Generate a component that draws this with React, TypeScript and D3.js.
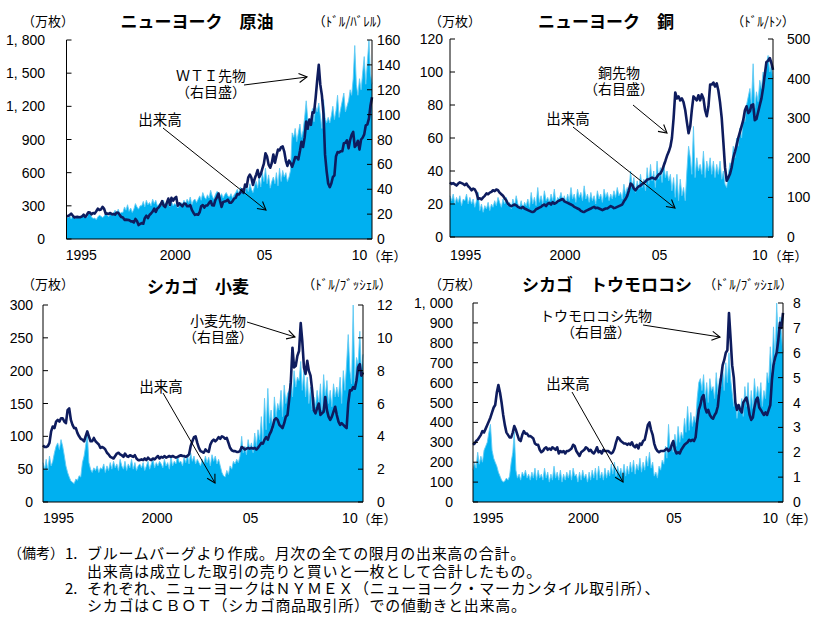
import React from "react";
import * as d3 from "d3";

// ---------- data (monthly, Jan 1995 – Apr 2011) ----------
const months: Date[] = d3.range(196).map((i) => new Date(1995, i, 1));

const xTickLabels = ["1995", "2000", "05", "10"];
const xTickDates = [new Date(1995, 9, 15), new Date(2000, 9, 15), new Date(2005, 6, 15), new Date(2010, 7, 1)];

// NY crude oil (WTI): volume 万枚, price $/bbl
const wtiVolume = [
  200,190,215,180,210,195,185,205,190,200,215,205,
  210,195,230,240,200,185,190,175,200,215,205,195,
  205,230,215,200,240,210,230,260,225,270,230,240,
  240,290,260,310,250,280,240,270,320,290,270,300,
  300,340,290,350,310,330,300,360,320,350,300,310,
  330,300,350,290,330,310,290,340,300,320,310,280,
  300,330,310,350,320,360,330,380,310,350,360,330,
  360,390,350,420,380,360,400,370,440,390,360,400,
  430,420,380,410,370,400,420,390,380,410,370,400,
  420,450,410,470,430,460,420,480,430,500,450,420,
  480,520,460,560,470,600,520,640,500,580,460,520,
  560,500,600,480,640,520,620,560,600,520,560,620,
  960,920,1000,880,960,1040,920,980,1100,1250,1080,1000,
  1100,1180,1060,1200,1150,1230,1120,1000,1260,1100,1050,1100,
  1050,1120,1200,1080,1160,1300,1100,1180,1250,1320,1150,1200,
  1250,1350,1300,1450,1750,1400,1300,1450,1350,1500,1650,1400,
  1600,1800,1500,1400,
];
const wtiPrice = [
  18.4,18.5,19.2,20.4,18.9,17.4,17.6,17.8,17.5,17.6,18.2,19.6,
  17.7,19.5,21.5,21.2,19.8,20.9,20.4,22.3,24.4,23.4,23.8,25.9,
  24.2,20.3,20.4,20.2,20.9,19.8,20.1,19.6,21.2,21.1,19.2,17.6,
  17.2,15.4,15.6,15.4,15.2,14.2,14.2,13.3,16.1,14.4,11.2,12.1,
  12.8,12.3,16.8,18.7,16.8,19.3,20.5,22.1,24.5,21.8,24.6,25.6,
  27.6,30.4,26.9,25.7,29.0,32.5,27.4,33.1,30.8,32.7,33.8,26.8,
  28.7,27.4,26.3,28.5,28.4,26.3,26.4,27.2,23.4,21.2,19.4,19.8,
  19.5,21.7,26.3,27.3,25.3,26.9,27.0,29.0,30.5,27.2,26.9,31.2,
  33.5,36.6,31.0,25.8,29.6,30.2,30.5,31.6,29.2,29.1,30.4,32.5,
  33.1,36.2,35.8,37.4,39.9,37.1,43.8,42.1,49.6,51.8,49.1,43.5,
  48.2,51.8,55.4,49.7,52.0,56.5,60.6,68.9,66.2,59.8,57.3,61.0,
  67.9,61.4,66.6,71.9,71.3,73.9,74.4,70.3,62.9,58.7,63.1,61.1,
  58.1,61.8,65.9,65.7,64.0,70.7,78.2,74.0,81.7,94.5,88.7,96.0,
  91.8,101.8,101.6,113.5,127.4,140.0,124.1,115.5,100.6,67.8,54.4,44.6,
  41.7,44.8,49.7,51.1,66.3,69.9,69.5,70.6,70.6,77.0,77.3,79.4,
  72.9,79.7,83.8,86.2,74.0,75.6,79.0,71.9,80.0,81.4,84.1,91.4,
  92.2,97.0,106.7,113.9,
];

// NY copper
const copperVolume = [
  25,22,26,20,24,21,25,19,23,22,26,20,
  24,20,23,18,22,27,16,20,15,19,17,21,
  16,20,18,22,19,24,21,18,23,20,24,19,
  21,17,23,19,25,20,18,22,17,21,19,23,
  18,27,20,24,19,30,21,25,20,28,22,24,
  21,26,22,29,20,24,23,27,22,25,21,26,
  22,30,23,26,21,29,24,27,22,31,23,26,
  21,27,22,25,20,28,23,26,21,29,24,27,
  22,26,23,28,24,30,25,27,23,32,26,30,
  28,40,30,36,27,34,29,38,30,35,28,42,
  32,44,34,40,30,46,35,42,33,45,36,40,
  34,38,28,36,24,38,22,35,25,30,22,40,
  55,48,38,67,36,48,40,44,38,52,36,46,
  40,48,38,46,36,44,38,46,35,40,32,30,
  38,45,42,55,48,60,55,66,60,72,70,80,
  85,90,80,105,78,88,82,95,90,100,96,105,
  110,100,104,96,
];
const copperPrice = [
  138,134,136,133,130,135,138,136,134,131,135,128,
  124,118,122,120,112,96,98,95,100,104,110,108,
  112,114,118,116,120,118,112,108,104,98,92,84,
  80,78,80,82,80,76,74,73,76,72,70,68,
  66,64,63,65,70,72,74,76,80,82,78,84,
  86,82,88,84,86,90,92,94,96,90,88,86,
  84,82,80,76,74,72,70,66,64,63,66,68,
  70,72,74,76,73,74,72,70,68,70,72,72,
  75,78,76,73,74,76,78,80,82,90,96,104,
  118,135,132,122,118,124,128,130,134,136,140,145,
  146,148,150,148,146,152,158,160,168,180,192,205,
  215,228,250,300,365,350,355,345,350,340,320,290,
  262,280,320,355,350,345,358,345,360,350,320,305,
  330,385,385,390,380,388,370,340,300,240,175,142,
  150,160,175,200,215,232,250,265,280,295,320,330,
  313,318,333,335,295,298,315,333,350,376,410,442,
  445,452,440,422,
];

// Chicago wheat
const wheatVolume = [
  60,50,65,48,70,55,62,75,85,90,80,95,
  85,70,55,45,38,32,30,28,35,33,40,38,
  60,70,85,105,60,50,45,52,48,55,45,52,
  50,58,45,55,48,60,50,62,52,58,48,65,
  55,50,62,48,58,52,65,50,60,48,55,58,
  52,60,48,55,62,50,58,65,52,60,55,62,
  58,52,65,55,60,50,68,55,62,58,70,60,
  62,55,68,60,72,58,75,62,70,58,65,60,
  55,65,58,70,60,68,55,72,62,70,58,65,
  55,45,40,38,48,42,55,50,62,58,65,60,
  70,100,75,85,72,95,80,90,75,105,85,110,
  95,130,90,158,110,173,120,140,110,160,130,150,
  140,170,130,178,150,165,170,190,160,200,175,190,
  185,214,170,200,160,190,150,175,140,160,145,170,
  150,180,140,194,160,185,150,170,145,180,160,175,
  160,190,150,200,170,210,255,200,180,300,180,220,
  210,260,200,225,
];
const wheatPrice = [
  3.45,3.35,3.35,3.4,3.6,4.3,4.6,4.5,4.9,5.0,4.9,5.1,
  5.1,4.9,4.8,5.6,5.7,5.0,4.7,4.5,4.5,4.2,4.0,3.85,
  3.8,3.7,4.0,4.3,4.0,3.7,3.7,3.9,3.7,3.6,3.5,3.3,
  3.35,3.3,3.2,3.0,2.9,2.75,2.7,2.65,2.8,2.95,3.0,2.9,
  2.85,2.75,2.95,2.8,2.75,2.85,2.8,2.75,2.85,2.65,2.55,2.55,
  2.6,2.55,2.65,2.55,2.7,2.6,2.55,2.65,2.6,2.7,2.8,2.65,
  2.75,2.7,2.8,2.7,2.75,2.8,2.75,2.8,2.75,2.7,2.75,2.8,
  2.85,2.8,2.8,2.75,2.8,2.9,3.4,3.7,3.95,4.0,3.6,3.3,
  3.1,3.05,3.0,3.2,3.1,3.05,3.5,3.7,3.8,3.7,3.8,3.95,
  3.85,4.0,3.95,3.85,3.9,3.6,3.3,3.15,3.1,3.1,3.05,3.05,
  3.1,3.35,3.3,3.2,3.25,3.3,3.25,3.3,3.25,3.3,3.2,3.3,
  3.45,3.6,3.55,3.8,3.95,3.8,4.1,4.3,4.6,5.0,5.1,5.0,
  4.7,4.6,4.5,4.8,5.2,5.3,6.2,7.3,9.4,8.2,8.3,8.9,
  9.2,10.9,9.8,8.2,7.8,8.6,8.0,7.7,6.8,5.6,5.4,5.7,
  6.0,5.3,5.4,5.5,6.4,5.6,5.2,5.0,5.2,5.5,5.8,5.3,
  4.9,4.7,4.8,4.7,4.6,4.5,6.0,6.8,6.8,7.0,6.9,7.4,
  8.2,8.4,7.7,7.9,
];

// Chicago corn
const cornVolume = [
  160,200,170,250,190,230,200,260,280,300,350,390,
  260,220,200,180,150,130,110,100,105,120,110,130,
  200,250,353,160,120,140,110,150,130,160,120,140,
  110,150,120,170,110,160,120,140,110,170,120,150,
  100,140,110,180,120,150,110,160,100,140,110,150,
  120,160,110,170,130,140,100,150,110,160,120,140,
  100,150,110,160,120,170,110,180,120,150,110,170,
  120,160,130,190,140,200,130,180,140,170,130,190,
  130,180,140,200,150,210,140,190,160,220,150,200,
  160,230,180,250,170,200,130,150,120,180,160,210,
  190,280,220,390,260,300,250,340,280,380,300,350,
  320,420,350,480,360,450,380,430,400,520,600,620,
  560,640,520,600,500,620,560,580,520,650,540,620,
  580,680,560,700,600,750,620,550,480,520,420,480,
  450,520,430,580,480,600,450,560,470,620,520,580,
  520,600,480,560,520,650,600,780,650,880,700,1000,
  800,930,850,750,
];
const cornPrice = [
  2.3,2.35,2.45,2.5,2.6,2.7,2.85,2.8,2.95,3.1,3.25,3.4,
  3.6,3.8,3.9,4.4,4.7,4.4,4.0,3.5,3.1,2.8,2.7,2.6,
  2.6,2.8,3.05,2.9,2.7,2.5,2.45,2.7,2.85,2.75,2.75,2.65,
  2.65,2.6,2.55,2.35,2.3,2.3,2.1,2.0,2.05,2.15,2.2,2.1,
  2.15,2.1,2.2,2.15,2.1,2.2,1.95,2.05,2.0,2.05,1.95,2.05,
  2.05,2.1,2.15,2.3,2.25,2.05,1.95,1.85,2.0,2.05,2.1,2.2,
  2.15,2.05,2.1,2.0,1.95,2.05,2.2,2.0,2.05,1.95,2.1,2.05,
  2.05,2.05,2.0,1.95,2.0,2.15,2.4,2.6,2.55,2.45,2.4,2.35,
  2.35,2.3,2.35,2.3,2.4,2.25,2.2,2.3,2.15,2.35,2.3,2.45,
  2.5,2.8,3.1,3.2,2.9,2.7,2.35,2.15,2.05,2.0,2.05,2.05,
  2.05,2.1,2.15,2.05,2.1,2.3,2.45,2.1,1.95,2.0,1.95,2.1,
  2.2,2.3,2.35,2.4,2.5,2.45,2.5,2.45,2.6,3.2,3.7,3.9,
  4.2,4.3,3.8,3.6,3.7,3.5,3.4,3.35,3.5,3.6,3.85,4.5,
  5.0,5.5,5.7,6.0,6.1,7.6,6.6,5.5,5.0,4.0,3.7,3.9,
  3.7,3.6,4.0,4.1,4.2,3.9,3.5,3.3,3.4,3.8,4.1,4.2,
  3.8,3.7,3.6,3.5,3.6,3.5,3.7,3.9,4.9,5.5,5.8,6.0,
  6.5,7.2,7.0,7.6,
];

// ---------- panel definitions ----------
type PanelDef = {
  title: string; unitL: string; unitR: string;
  volume: number[]; price: number[];
  leftMax: number; leftStep: number; rightMax: number; rightStep: number;
  futLabel: string[];
};
const panelDefs: PanelDef[] = [
  { title: "ニューヨーク　原油", unitL: "（万枚）", unitR: "（ﾄﾞﾙ/ﾊﾞﾚﾙ）", volume: wtiVolume, price: wtiPrice, leftMax: 1800, leftStep: 300, rightMax: 160, rightStep: 20, futLabel: ["ＷＴＩ先物", "（右目盛）"] },
  { title: "ニューヨーク　銅", unitL: "（万枚）", unitR: "（ﾄﾞﾙ/ﾄﾝ）", volume: copperVolume, price: copperPrice, leftMax: 120, leftStep: 20, rightMax: 500, rightStep: 100, futLabel: ["銅先物", "（右目盛）"] },
  { title: "シカゴ　小麦", unitL: "（万枚）", unitR: "（ﾄﾞﾙ/ﾌﾞｯｼｪﾙ）", volume: wheatVolume, price: wheatPrice, leftMax: 300, leftStep: 50, rightMax: 12, rightStep: 2, futLabel: ["小麦先物", "（右目盛）"] },
  { title: "シカゴ　トウモロコシ", unitL: "（万枚）", unitR: "（ﾄﾞﾙ/ﾌﾞｯｼｪﾙ）", volume: cornVolume, price: cornPrice, leftMax: 1000, leftStep: 100, rightMax: 8, rightStep: 1, futLabel: ["トウモロコシ先物", "（右目盛）"] },
];

type Layout = {
  left: number; right: number; top: number; bottom: number;
  titleX: number; titleY: number; unitLX: number; unitRX: number; unitY: number;
  leftLabelX: number; rightLabelX: number; xLabelY: number; yearX: number;
  futX: number; futY: number; volX: number; volY: number;
  futArrow: number[]; volArrow: number[];
};
const layouts: Layout[] = [
  { left: 66.5, right: 372, top: 40, bottom: 239, titleX: 197, titleY: 20, unitLX: 48, unitRX: 351, unitY: 20, leftLabelX: 45, rightLabelX: 377, xLabelY: 255, yearX: 387, futX: 211, futY: 75, volX: 160, volY: 118, futArrow: [244, 85, 307, 77], volArrow: [163, 128, 266, 210] },
  { left: 450, right: 773, top: 39, bottom: 237, titleX: 606, titleY: 20, unitLX: 455, unitRX: 763, unitY: 20, leftLabelX: 443, rightLabelX: 787, xLabelY: 255, yearX: 788, futX: 619, futY: 72, volX: 568, volY: 117, futArrow: [633, 105, 667, 133], volArrow: [573, 127, 675, 208] },
  { left: 43, right: 363, top: 305, bottom: 502, titleX: 198, titleY: 285, unitLX: 48, unitRX: 347, unitY: 283, leftLabelX: 33, rightLabelX: 377, xLabelY: 518, yearX: 377, futX: 218, futY: 320, volX: 161, volY: 385, futArrow: [247, 322, 295, 337], volArrow: [163, 393, 215, 483] },
  { left: 473, right: 783, top: 303, bottom: 502, titleX: 607, titleY: 283, unitLX: 455, unitRX: 748, unitY: 283, leftLabelX: 453, rightLabelX: 793, xLabelY: 518, yearX: 797, futX: 596, futY: 315, volX: 568, volY: 382, futArrow: [643, 325, 720, 337], volArrow: [572, 392, 623, 482] },
];

const notes = [
  { x: 8, y: 552, t: "（備考）", size: 14, ls: 0 },
  { x: 65, y: 552, t: "1.", size: 15, ls: 0 },
  { x: 87, y: 552, t: "ブルームバーグより作成。月次の全ての限月の出来高の合計。", size: 15, ls: 0.7 },
  { x: 87, y: 570, t: "出来高は成立した取引の売りと買いと一枚として合計したもの。", size: 15, ls: 0.7 },
  { x: 65, y: 587, t: "2.", size: 15, ls: 0 },
  { x: 87, y: 587, t: "それぞれ、ニューヨークはＮＹＭＥＸ（ニューヨーク・マーカンタイル取引所）、", size: 15, ls: 0.7 },
  { x: 87, y: 604, t: "シカゴはＣＢＯＴ（シカゴ商品取引所）での値動きと出来高。", size: 15, ls: 0.7 },
];

const JP = "'Noto Sans CJK JP', 'Noto Sans', sans-serif";
const NUM = "'Liberation Sans', Arial, sans-serif";
const AREA = "#00b0f0";
const AREA_EDGE = "#62cbf4";
const LINE = "#0e1c5e";

const fmt = (v: number) => (v >= 1000 ? d3.format(",")(v).replace(",", ", ") : String(v));

function Panel({ def, lay }: { def: PanelDef; lay: Layout }) {
  const x = d3.scaleTime().domain([months[0], months[months.length - 1]]).range([lay.left, lay.right]);
  const yL = d3.scaleLinear().domain([0, def.leftMax]).range([lay.bottom, lay.top]);
  const yR = d3.scaleLinear().domain([0, def.rightMax]).range([lay.bottom, lay.top]);
  const area = d3.area<number>().x((_, i) => x(months[i])).y0(yL(0)).y1((d) => yL(d));
  const volEdge = d3.line<number>().x((_, i) => x(months[i])).y((d) => yL(d));
  const line = d3.line<number>().x((_, i) => x(months[i])).y((d) => yR(d));
  const lt = d3.range(0, def.leftMax + 1e-9, def.leftStep);
  const rt = d3.range(0, def.rightMax + 1e-9, def.rightStep);
  return (
    <g>
      <path d={area(def.volume) || ""} fill={AREA} />
      <path d={volEdge(def.volume) || ""} fill="none" stroke={AREA_EDGE} strokeWidth={0.9} />
      <path d={line(def.price) || ""} fill="none" stroke={LINE} strokeWidth={2.6} strokeLinejoin="round" />
      {/* axes */}
      <line x1={lay.left} x2={lay.left} y1={lay.top} y2={lay.bottom} stroke="#000" strokeWidth={1} />
      <line x1={lay.right} x2={lay.right} y1={lay.top} y2={lay.bottom} stroke="#000" strokeWidth={1} />
      <line x1={lay.left} x2={lay.right} y1={lay.bottom} y2={lay.bottom} stroke="#000" strokeWidth={1} />
      {lt.map((v) => (
        <g key={"l" + v}>
          <line x1={lay.left} x2={lay.left + 5} y1={yL(v)} y2={yL(v)} stroke="#000" />
          <text x={lay.leftLabelX} y={yL(v)} textAnchor="end" dominantBaseline="central" fontFamily={NUM} fontSize={14}>{fmt(v)}</text>
        </g>
      ))}
      {rt.map((v) => (
        <g key={"r" + v}>
          <line x1={lay.right - 5} x2={lay.right} y1={yR(v)} y2={yR(v)} stroke="#000" />
          <text x={lay.rightLabelX} y={yR(v)} textAnchor="start" dominantBaseline="central" fontFamily={NUM} fontSize={14}>{fmt(v)}</text>
        </g>
      ))}
      {xTickLabels.map((t, i) => (
        <text key={t} x={x(xTickDates[i])} y={lay.xLabelY} textAnchor="middle" dominantBaseline="central" fontFamily={NUM} fontSize={14}>{t}</text>
      ))}
      <text x={lay.yearX} y={lay.xLabelY} textAnchor="middle" dominantBaseline="central" fontFamily={JP} fontSize={13}>（年）</text>
      {/* titles */}
      <text x={lay.titleX} y={lay.titleY} textAnchor="middle" dominantBaseline="central" fontFamily={JP} fontSize={17} fontWeight={700}>{def.title}</text>
      <text x={lay.unitLX} y={lay.unitY} textAnchor="middle" dominantBaseline="central" fontFamily={JP} fontSize={13}>{def.unitL}</text>
      <text x={lay.unitRX} y={lay.unitY} textAnchor="middle" dominantBaseline="central" fontFamily={JP} fontSize={13}>{def.unitR}</text>
      {/* annotations */}
      <text x={lay.futX} y={lay.futY} textAnchor="middle" dominantBaseline="central" fontFamily={JP} fontSize={14}>{def.futLabel[0]}</text>
      <text x={lay.futX} y={lay.futY + 16} textAnchor="middle" dominantBaseline="central" fontFamily={JP} fontSize={14}>{def.futLabel[1]}</text>
      <text x={lay.volX} y={lay.volY} textAnchor="middle" dominantBaseline="central" fontFamily={JP} fontSize={14.5}>出来高</text>
      <line x1={lay.futArrow[0]} y1={lay.futArrow[1]} x2={lay.futArrow[2]} y2={lay.futArrow[3]} stroke="#000" strokeWidth={1} markerEnd="url(#arrowV)" />
      <line x1={lay.volArrow[0]} y1={lay.volArrow[1]} x2={lay.volArrow[2]} y2={lay.volArrow[3]} stroke="#000" strokeWidth={1} markerEnd="url(#arrowV)" />
    </g>
  );
}

export default function App() {
  return (
    <svg width={818} height={620} style={{ position: "absolute", left: 0, top: 0, background: "#fff" }}>
      <defs>
        <marker id="arrowV" viewBox="-10 -6 12 12" refX={0} refY={0} markerWidth={12} markerHeight={12} markerUnits="userSpaceOnUse" orient="auto">
          <path d="M-8,-4.5 L0,0 L-8,4.5" fill="none" stroke="#000" strokeWidth={1.1} />
        </marker>
      </defs>
      <rect x={0} y={0} width={818} height={620} fill="#fff" />
      {panelDefs.map((d, i) => (
        <Panel key={i} def={d} lay={layouts[i]} />
      ))}
      {notes.map((n, i) => (
        <text key={i} x={n.x} y={n.y} dominantBaseline="central" fontFamily={JP} fontSize={n.size} letterSpacing={n.ls}>{n.t}</text>
      ))}
    </svg>
  );
}
